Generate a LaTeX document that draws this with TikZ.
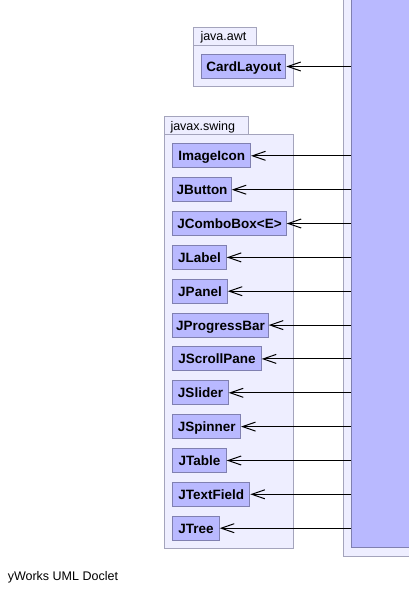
\documentclass[tikz,border=0pt]{standalone}
\usepackage{fontspec}
\setsansfont{Liberation Sans}
\usetikzlibrary{arrows.meta}

\definecolor{clsfill}{RGB}{185,185,255}
\definecolor{clsline}{RGB}{128,128,176}
\definecolor{pkgfill}{RGB}{238,238,255}
\definecolor{pkgline}{RGB}{164,164,188}

\begin{document}
\begin{tikzpicture}[x=1pt,y=-1pt,line width=1pt,
  cls/.style={draw=clsline,fill=clsfill,anchor=north west,inner xsep=2pt,inner ysep=0pt,
    minimum height=24pt,text height=9.8pt,text depth=0pt,
    font=\sffamily\bfseries\fontsize{13.5}{15}\selectfont},
  pkg/.style={draw=pkgline,fill=pkgfill},
  pkglabel/.style={anchor=base west,inner sep=0pt,font=\sffamily\fontsize{12.5}{14}\selectfont},
  >={Straight Barb[length=13pt,width=9pt]}]
\useasboundingbox (0,0) rectangle (409,594);
\clip (0,0) rectangle (409,594);

% the class that uses them all
\draw[pkg] (343.3,-5) rectangle (420,556);
\node[draw=clsline,fill=clsfill,anchor=south west,minimum width=75pt,minimum height=560pt,inner sep=0pt] (user) at (351,548.3) {};

% java.awt
\draw[pkg] (193.3,27.3) rectangle (256.7,46);
\draw[pkg] (193.3,46) rectangle (293.3,86);
\node[pkglabel] (awt) at (200,40.7) {java.awt};
\node[cls,minimum width=84pt] (cardlayout) at (201.3,54) {CardLayout};

% javax.swing
\draw[pkg] (164,116.7) rectangle (248.3,134.3);
\draw[pkg] (164,134.3) rectangle (293.3,548.3);
\node[pkglabel] (swing) at (170,130.5) {javax.swing};
\node[cls,minimum width=77.7pt] (imageicon) at (172.3,143.3) {ImageIcon};
\node[cls,minimum width=58.4pt] (jbutton) at (172.3,177.2) {JButton};
\node[cls,minimum width=113.4pt] (jcombobox) at (172.3,211) {JComboBox<E>};
\node[cls,minimum width=53.4pt] (jlabel) at (172.3,244.9) {JLabel};
\node[cls,minimum width=54.4pt] (jpanel) at (172.3,278.7) {JPanel};
\node[cls,minimum width=95.4pt] (jprogressbar) at (172.3,312.6) {JProgressBar};
\node[cls,minimum width=88.4pt] (jscrollpane) at (172.3,346.4) {JScrollPane};
\node[cls,minimum width=55.4pt] (jslider) at (172.3,380.3) {JSlider};
\node[cls,minimum width=67.7pt] (jspinner) at (172.3,414.1) {JSpinner};
\node[cls,minimum width=53.4pt] (jtable) at (172.3,448) {JTable};
\node[cls,minimum width=77pt] (jtextfield) at (172.3,481.8) {JTextField};
\node[cls,minimum width=46.4pt] (jtree) at (172.3,515.7) {JTree};

% dependencies
\draw[->] (user.west |- cardlayout.east) -- (cardlayout.east);
\draw[->] (user.west |- imageicon.east) -- (imageicon.east);
\draw[->] (user.west |- jbutton.east) -- (jbutton.east);
\draw[->] (user.west |- jcombobox.east) -- (jcombobox.east);
\draw[->] (user.west |- jlabel.east) -- (jlabel.east);
\draw[->] (user.west |- jpanel.east) -- (jpanel.east);
\draw[->] (user.west |- jprogressbar.east) -- (jprogressbar.east);
\draw[->] (user.west |- jscrollpane.east) -- (jscrollpane.east);
\draw[->] (user.west |- jslider.east) -- (jslider.east);
\draw[->] (user.west |- jspinner.east) -- (jspinner.east);
\draw[->] (user.west |- jtable.east) -- (jtable.east);
\draw[->] (user.west |- jtextfield.east) -- (jtextfield.east);
\draw[->] (user.west |- jtree.east) -- (jtree.east);

\node[pkglabel] (doclet) at (7.3,580.7) {yWorks UML Doclet};
\end{tikzpicture}
\end{document}
